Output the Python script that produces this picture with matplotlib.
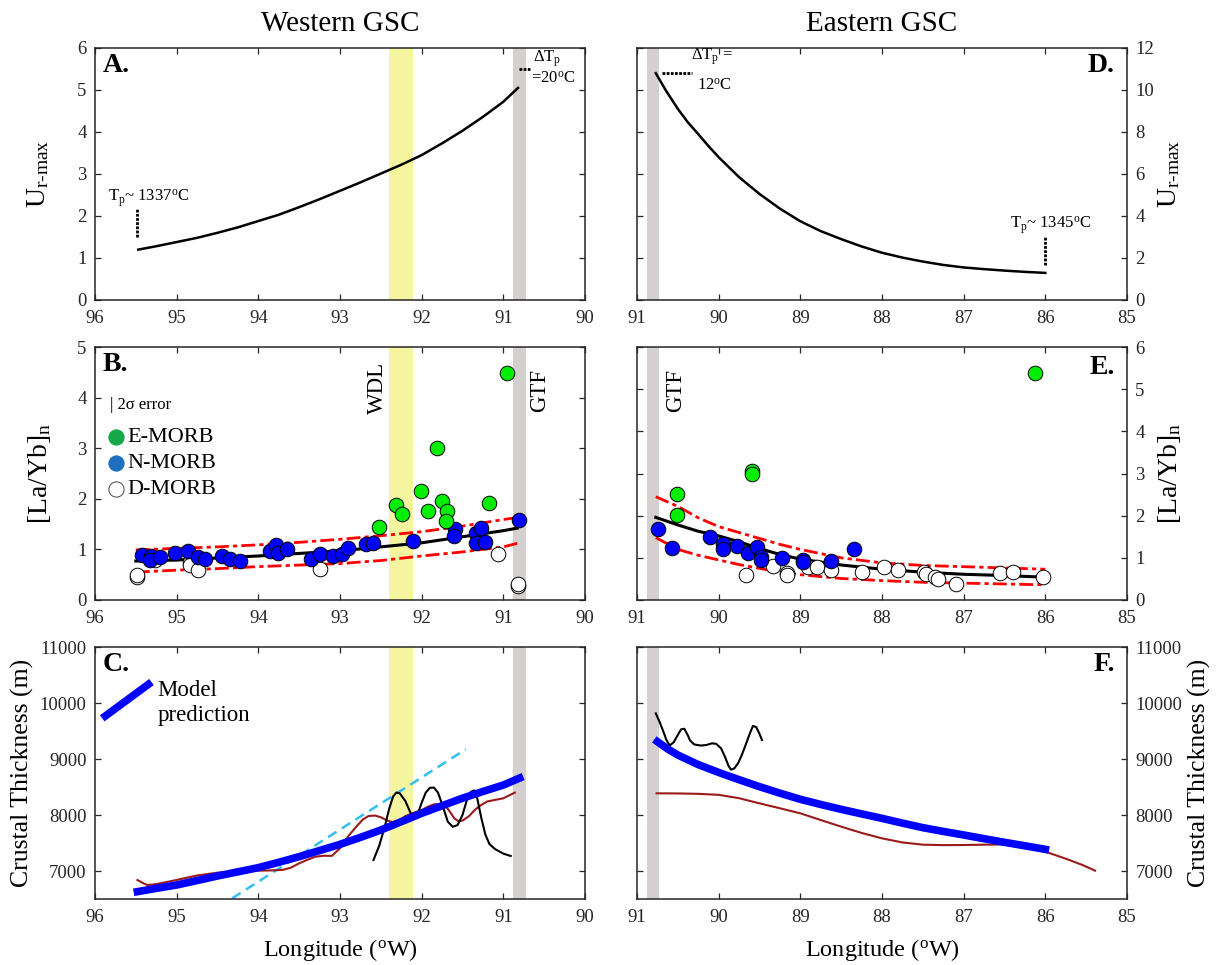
import numpy as np
import matplotlib.pyplot as plt

plt.rcParams['font.family'] = ['Liberation Serif', 'DejaVu Serif']
plt.rcParams['mathtext.fontset'] = 'custom'
plt.rcParams['mathtext.rm'] = 'Liberation Serif'
plt.rcParams['mathtext.it'] = 'Liberation Serif:italic'
plt.rcParams['mathtext.bf'] = 'Liberation Serif:bold'

# ---- data ----
# A: Ur-max, western GSC
lonA = [95.47, 95.25, 95.0, 94.75, 94.5, 94.25, 94.0, 93.75, 93.5, 93.25, 93.0,
        92.75, 92.5, 92.25, 92.0, 91.75, 91.5, 91.25, 91.0, 90.82]
urA = [1.20, 1.28, 1.38, 1.48, 1.60, 1.73, 1.88, 2.03, 2.21, 2.40, 2.60,
       2.80, 3.01, 3.22, 3.45, 3.73, 4.03, 4.36, 4.72, 5.05]

# D: Ur-max, eastern GSC
lonD = [90.77, 90.65, 90.5, 90.375, 90.25, 90.125, 90.0, 89.75, 89.5, 89.25, 89.0,
        88.75, 88.5, 88.25, 88.0, 87.75, 87.5, 87.25, 87.0, 86.75, 86.5, 86.25, 86.0]
urD = [10.8, 10.0, 9.1, 8.45, 7.9, 7.33, 6.8, 5.85, 5.05, 4.35, 3.75,
       3.28, 2.9, 2.55, 2.25, 2.02, 1.83, 1.67, 1.55, 1.47, 1.40, 1.34, 1.29]

# B: [La/Yb]n western
emorb_w_lon = [90.96, 91.81, 92.01, 92.32, 92.24, 92.52, 91.92, 91.75, 91.69, 91.70, 91.18]
emorb_w_val = [4.48, 3.0, 2.15, 1.88, 1.70, 1.44, 1.75, 1.96, 1.75, 1.56, 1.92]
nmorb_w_lon = [95.43, 95.31, 95.33, 95.20, 95.02, 94.86, 94.74, 94.65, 94.44, 94.35,
               94.22, 93.86, 93.78, 93.76, 93.65, 93.35, 93.25, 93.09, 92.97, 92.90,
               92.68, 92.60, 92.11, 91.59, 91.60, 91.33, 91.27, 91.33, 91.23, 90.81]
nmorb_w_val = [0.89, 0.86, 0.79, 0.84, 0.92, 0.96, 0.84, 0.81, 0.86, 0.82,
               0.78, 0.96, 1.09, 0.92, 1.01, 0.82, 0.90, 0.86, 0.91, 1.02,
               1.10, 1.12, 1.17, 1.40, 1.26, 1.33, 1.43, 1.13, 1.15, 1.59]
dmorb_w_lon = [95.49, 95.49, 95.27, 94.84, 94.84, 94.74, 93.25, 91.06, 90.82, 90.82]
dmorb_w_val = [0.45, 0.50, 0.79, 0.76, 0.70, 0.59, 0.61, 0.91, 0.28, 0.31]
fitB_lon = [95.5, 95.0, 94.5, 94.0, 93.5, 93.0, 92.5, 92.0, 91.5, 91.0, 90.83]
fitB = [0.77, 0.79, 0.83, 0.87, 0.92, 0.97, 1.05, 1.13, 1.25, 1.37, 1.42]
fitB_hi = [0.99, 1.02, 1.05, 1.09, 1.14, 1.20, 1.27, 1.35, 1.46, 1.59, 1.63]
fitB_lo = [0.55, 0.59, 0.62, 0.66, 0.69, 0.72, 0.78, 0.87, 0.95, 1.05, 1.12]

# E: [La/Yb]n eastern
emorb_e_lon = [86.13, 89.59, 89.59, 90.51, 90.51]
emorb_e_val = [5.38, 3.07, 2.99, 2.51, 2.02]
nmorb_e_lon = [90.74, 90.57, 90.11, 89.95, 89.95, 89.77, 89.64, 89.53, 89.48, 89.48,
               89.23, 88.97, 88.97, 88.62, 88.34]
nmorb_e_val = [1.68, 1.23, 1.50, 1.32, 1.22, 1.28, 1.12, 1.26, 1.03, 0.95,
               1.00, 0.96, 0.90, 0.92, 1.21]
dmorb_e_lon = [89.67, 89.34, 89.16, 89.16, 88.91, 88.80, 88.62, 88.24, 87.97, 87.81,
               87.48, 87.46, 87.35, 87.32, 87.09, 86.55, 86.39, 86.03]
dmorb_e_val = [0.59, 0.81, 0.65, 0.60, 0.79, 0.79, 0.71, 0.67, 0.79, 0.70,
               0.67, 0.61, 0.55, 0.49, 0.37, 0.63, 0.66, 0.54]
fitE_lon = [90.77, 90.5, 90.25, 90.0, 89.75, 89.5, 89.25, 89.0, 88.5, 88.0, 87.5, 87.0, 86.5, 86.0]
fitE = [1.96, 1.78, 1.63, 1.52, 1.38, 1.22, 1.08, 0.97, 0.83, 0.73, 0.66, 0.61, 0.58, 0.54]
fitE_hi = [2.45, 2.22, 1.95, 1.74, 1.60, 1.46, 1.32, 1.20, 1.00, 0.88, 0.82, 0.79, 0.76, 0.73]
fitE_lo = [1.48, 1.20, 1.06, 0.95, 0.84, 0.75, 0.66, 0.60, 0.51, 0.46, 0.42, 0.40, 0.38, 0.36]

# C: crustal thickness western
modelC_lon = [95.48, 95.25, 95.0, 94.75, 94.5, 94.25, 94.0, 93.75, 93.5, 93.25, 93.0,
              92.75, 92.5, 92.25, 92.0, 91.75, 91.5, 91.25, 91.0, 90.8]
modelC = [6631, 6690, 6750, 6830, 6911, 6985, 7060, 7155, 7256, 7365, 7476,
          7600, 7732, 7880, 8030, 8165, 8300, 8420, 8535, 8660]
redC_lon = [95.48, 95.42, 95.36, 95.28, 95.2, 95.1, 95.0, 94.75, 94.5, 94.25, 94.0,
            93.85, 93.7, 93.6, 93.5, 93.4, 93.3, 93.2, 93.1, 93.0, 92.9, 92.8,
            92.72, 92.65, 92.57, 92.5, 92.42, 92.35, 92.27, 92.2, 92.1, 92.0,
            91.92, 91.85, 91.78, 91.7, 91.65, 91.6, 91.55, 91.5, 91.42, 91.35,
            91.28, 91.2, 91.1, 91.0, 90.93, 90.86]
redC = [6839, 6790, 6750, 6760, 6780, 6810, 6840, 6920, 6970, 7000, 7006,
        7010, 7020, 7060, 7137, 7200, 7256, 7272, 7270, 7405, 7620, 7792,
        7920, 7982, 7990, 7960, 7900, 7870, 7910, 7980, 8040, 8089,
        8150, 8190, 8195, 8150, 8050, 7940, 7890, 7900, 7980, 8090,
        8170, 8240, 8270, 8298, 8350, 8399]
blkC_lon = [92.59, 92.52, 92.45, 92.4, 92.35, 92.31, 92.27, 92.2, 92.14, 92.09, 92.04,
            92.0, 91.95, 91.9, 91.85, 91.8, 91.74, 91.68, 91.62, 91.56, 91.5,
            91.45, 91.4, 91.36, 91.32, 91.27, 91.22, 91.17, 91.1, 91.0, 90.91]
blkC = [7196, 7450, 7800, 8100, 8330, 8400, 8390, 8250, 8050, 7950, 8050,
        8220, 8400, 8485, 8490, 8400, 8150, 7880, 7790, 7820, 8000,
        8250, 8410, 8440, 8300, 7950, 7650, 7480, 7390, 7310, 7268]
cyanC_lon = [94.32, 91.46]
cyanC = [6512, 9173]

# F: crustal thickness eastern
modelF_lon = [90.75, 90.625, 90.5, 90.25, 90.0, 89.75, 89.5, 89.25, 89.0, 88.75, 88.5,
              88.25, 88.0, 87.75, 87.5, 87.25, 87.0, 86.75, 86.5, 86.25, 86.0]
modelF = [9310, 9180, 9071, 8900, 8760, 8630, 8506, 8390, 8280, 8188, 8101,
          8020, 7940, 7855, 7774, 7707, 7643, 7577, 7512, 7450, 7387]
redF_lon = [90.76, 90.5, 90.25, 90.0, 89.75, 89.5, 89.25, 89.0, 88.75, 88.5, 88.25,
            88.0, 87.75, 87.5, 87.25, 87.0, 86.75, 86.5, 86.25, 86.0, 85.75, 85.55, 85.39]
redF = [8387, 8385, 8378, 8360, 8300, 8208, 8120, 8030, 7910, 7792, 7680,
        7583, 7510, 7470, 7462, 7464, 7470, 7475, 7420, 7345, 7220, 7110, 7006]
blkF_lon = [90.77, 90.72, 90.68, 90.64, 90.6, 90.55, 90.5, 90.46, 90.42, 90.38, 90.35,
            90.3, 90.22, 90.15, 90.08, 90.03, 89.97, 89.92, 89.88, 89.85, 89.81,
            89.76, 89.72, 89.67, 89.62, 89.58, 89.54, 89.5, 89.47]
blkF = [9815, 9650, 9500, 9340, 9240, 9300, 9430, 9530, 9540, 9430, 9330,
        9260, 9240, 9250, 9280, 9270, 9190, 9030, 8880, 8810, 8830,
        8930, 9060, 9250, 9450, 9590, 9570, 9450, 9339]

morb_labels = ['E-MORB', 'N-MORB', 'D-MORB']

YELLOW = '#f5f5a0'
GREY = '#d4d0d0'
DARKRED = '#9b1b1b'
dots = (0, (1, 0.5))
dashdot = (0, (5, 1.5, 1.5, 1.5))

fig = plt.figure(figsize=(12.17, 9.65), dpi=100)
W, H = 1217.0, 965.0
xl, xr, wd = 95 / W, 637 / W, 490 / W
rows = [(1 - 300 / H, 252 / H), (1 - 600 / H, 253 / H), (1 - 899 / H, 252 / H)]

axA = fig.add_axes([xl, rows[0][0], wd, rows[0][1]])
axB = fig.add_axes([xl, rows[1][0], wd, rows[1][1]])
axC = fig.add_axes([xl, rows[2][0], wd, rows[2][1]])
axD = fig.add_axes([xr, rows[0][0], wd, rows[0][1]])
axE = fig.add_axes([xr, rows[1][0], wd, rows[1][1]])
axF = fig.add_axes([xr, rows[2][0], wd, rows[2][1]])


def style(ax, right=False):
    ax.tick_params(direction='in', length=4, width=0.9, top=True, bottom=True,
                   left=True, right=True, labelsize=13.5, colors='#262626',
                   labelleft=not right, labelright=right)
    ax.tick_params(axis='x', pad=7)
    ax.tick_params(axis='y', pad=6)
    for s in ax.spines.values():
        s.set_linewidth(1.1)
        s.set_color('#262626')
    if right:
        ax.yaxis.set_label_position('right')


for ax in (axA, axB, axC):
    style(ax)
    ax.set_xlim(96, 90)
    ax.set_xticks([96, 95, 94, 93, 92, 91, 90])
    ax.axvspan(92.4, 92.11, color=YELLOW, lw=0, zorder=0)
    ax.axvspan(90.88, 90.72, color=GREY, lw=0, zorder=0)
for ax in (axD, axE, axF):
    style(ax, right=True)
    ax.set_xlim(91, 85)
    ax.set_xticks([91, 90, 89, 88, 87, 86, 85])
    ax.axvspan(90.88, 90.73, color=GREY, lw=0, zorder=0)

ulabel = r'U$_{\text{r-max}}$'
lalabel = r'[La/Yb]$_{\rm n}$'

# ---- A ----
axA.plot(lonA, urA, color='k', lw=1.8)
axA.set_ylim(0, 6)
axA.set_yticks(range(0, 7))
axA.set_ylabel(ulabel, fontsize=20)
axA.yaxis.set_label_coords(-0.09, 0.5)
axA.set_title('Western GSC', fontsize=21, pad=12)
axA.text(0.015, 0.93, 'A.', transform=axA.transAxes, fontsize=20, fontweight='bold', va='center')
axA.plot([95.48, 95.48], [1.5, 2.19], color='k', lw=2, ls=dots)
axA.text(95.84, 2.43, r'T$_{\rm p}$~ 1337$^{\rm o}$C', fontsize=12, va='center')
axA.plot([90.81, 90.67], [5.49, 5.49], color='k', lw=2, ls=dots, clip_on=False)
axA.text(90.64, 5.74, r'$\Delta$T$_{\rm p}$', fontsize=12, va='center', clip_on=False)
axA.text(90.66, 5.28, r'=20$^{\rm o}$C', fontsize=12, va='center', clip_on=False)

# ---- D ----
axD.plot(lonD, urD, color='k', lw=1.8)
axD.set_ylim(0, 12)
axD.set_yticks(range(0, 13, 2))
axD.set_ylabel(ulabel, fontsize=20)
axD.yaxis.set_label_coords(1.06, 0.5)
axD.set_title('Eastern GSC', fontsize=21, pad=12)
axD.text(0.975, 0.93, 'D.', transform=axD.transAxes, fontsize=20, fontweight='bold',
         va='center', ha='right')
axD.plot([90.69, 90.33], [10.8, 10.8], color='k', lw=2, ls=dots)
axD.text(90.34, 11.6, r'$\Delta$T$_{\rm p}$ =', fontsize=12, va='center')
axD.text(90.27, 10.2, r'12$^{\rm o}$C', fontsize=12, va='center')
axD.plot([86.0, 86.0], [1.67, 3.05], color='k', lw=2, ls=dots)
axD.text(86.43, 3.55, r'T$_{\rm p}$~ 1345$^{\rm o}$C', fontsize=12, va='center')

# ---- B ----
pt = dict(ls='none', marker='o', ms=10.5, mec='k', mew=0.7, zorder=3)
axB.plot(fitB_lon, fitB_hi, color='red', lw=2, ls=dashdot, zorder=2)
axB.plot(fitB_lon, fitB_lo, color='red', lw=2, ls=dashdot, zorder=2)
axB.plot(fitB_lon, fitB, color='k', lw=2.2, zorder=2)
axB.plot(dmorb_w_lon, dmorb_w_val, mfc='white', **pt)
axB.plot(nmorb_w_lon, nmorb_w_val, mfc='#0000ff', **pt)
axB.plot(emorb_w_lon, emorb_w_val, mfc='#00ee00', **pt)
axB.set_ylim(0, 5)
axB.set_yticks(range(0, 6))
axB.set_ylabel(lalabel, fontsize=20)
axB.yaxis.set_label_coords(-0.085, 0.5)
axB.text(0.015, 0.93, 'B.', transform=axB.transAxes, fontsize=20, fontweight='bold', va='center')
axB.text(92.54, 4.19, 'WDL', rotation=90, fontsize=16.5, ha='center', va='center')
axB.text(90.55, 4.15, 'GTF', rotation=90, fontsize=16.5, ha='center', va='center', clip_on=False)
axB.text(0.03, 0.77, '| 2σ error', transform=axB.transAxes, fontsize=12, va='center')
for yy, fc, lab in zip([0.643, 0.54, 0.437], ['#14a84a', '#1f6fc0', 'white'], morb_labels):
    axB.plot(0.043, yy, 'o', transform=axB.transAxes, ms=11, mfc=fc,
             mec='#444444' if fc == 'white' else fc, mew=0.7)
    axB.text(0.066, yy, lab, transform=axB.transAxes, fontsize=16, va='center')

# ---- E ----
axE.plot(fitE_lon, fitE_hi, color='red', lw=2, ls=dashdot, zorder=2)
axE.plot(fitE_lon, fitE_lo, color='red', lw=2, ls=dashdot, zorder=2)
axE.plot(fitE_lon, fitE, color='k', lw=2.2, zorder=2)
axE.plot(dmorb_e_lon, dmorb_e_val, mfc='white', **pt)
axE.plot(nmorb_e_lon, nmorb_e_val, mfc='#0000ff', **pt)
axE.plot(emorb_e_lon, emorb_e_val, mfc='#00ee00', **pt)
axE.set_ylim(0, 6)
axE.set_yticks(range(0, 7))
axE.set_ylabel(lalabel, fontsize=20)
axE.yaxis.set_label_coords(1.06, 0.5)
axE.text(0.975, 0.917, 'E.', transform=axE.transAxes, fontsize=20, fontweight='bold',
         va='center', ha='right')
axE.text(90.53, 4.98, 'GTF', rotation=90, fontsize=16.5, ha='center', va='center')

# ---- C ----
axC.plot(cyanC_lon, cyanC, color='#33bff0', lw=1.8, ls=(0, (4, 2.5)), zorder=2)
axC.plot(redC_lon, redC, color=DARKRED, lw=1.5, zorder=2)
axC.plot(blkC_lon, blkC, color='k', lw=1.5, zorder=2)
axC.plot(modelC_lon, modelC, color='#0000ff', lw=5.5, zorder=3)
axC.set_ylim(6500, 11000)
axC.set_yticks(range(7000, 11001, 1000))
axC.set_ylabel('Crustal Thickness (m)', fontsize=18.5)
axC.set_xlabel(r'Longitude ($^{\rm o}$W)', fontsize=17.5, labelpad=8)
axC.text(0.015, 0.93, 'C.', transform=axC.transAxes, fontsize=20, fontweight='bold', va='center')
axC.plot([0.021, 0.109], [0.726, 0.852], transform=axC.transAxes, color='#0000ff', lw=5.5)
axC.text(0.127, 0.778, 'Model\nprediction', transform=axC.transAxes, fontsize=16.5,
         va='center', linespacing=1.25)

# ---- F ----
axF.plot(redF_lon, redF, color=DARKRED, lw=1.5, zorder=2)
axF.plot(blkF_lon, blkF, color='k', lw=1.5, zorder=2)
axF.plot(modelF_lon, modelF, color='#0000ff', lw=5.5, zorder=3)
axF.set_ylim(6500, 11000)
axF.set_yticks(range(7000, 11001, 1000))
axF.set_ylabel('Crustal Thickness (m)', fontsize=18.5)
axF.set_xlabel(r'Longitude ($^{\rm o}$W)', fontsize=17.5, labelpad=8)
axF.text(0.975, 0.93, 'F.', transform=axF.transAxes, fontsize=20, fontweight='bold',
         va='center', ha='right')

fig.savefig('out.png', dpi=100)
